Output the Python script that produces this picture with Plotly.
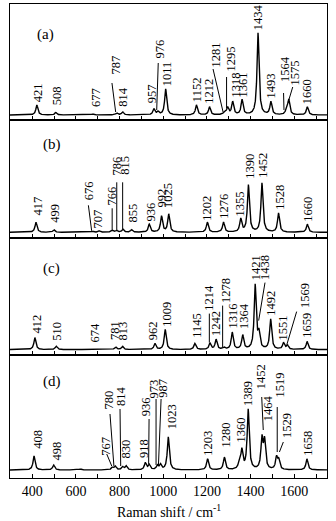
import numpy as np
import plotly.graph_objects as go
from plotly.subplots import make_subplots

# ---------------- data: peak positions (cm-1) and relative intensities ----------------
a_pos = [421, 508, 677, 787, 814, 957, 976, 1011, 1152, 1212, 1281, 1295, 1318, 1361, 1434, 1493, 1564, 1575, 1660]
a_int = [10, 2.5, 1, 2, 3, 6, 3, 26, 10, 8, 3, 7, 13, 15, 82, 13, 4, 15, 8]
a_lab = ["421", "508", "677", "787", "814", "957", "976", "1011", "1152", "1212", "1281", "1295",
         "1318", "1361", "1434", "1493", "1564", "1575", "1660"]

b_pos = [417, 499, 676, 707, 766, 786, 815, 855, 936, 992, 1025, 1202, 1276, 1355, 1390, 1452, 1528, 1660]
b_int = [10, 2.5, 1, 1.5, 2, 2, 3, 2.5, 8, 16, 18, 10, 10, 13, 47, 49, 19, 8]
b_lab = ["417", "499", "676", "707", "766", "786", "815", "855", "936", "992", "1025", "1202",
         "1276", "1355", "1390", "1452", "1528", "1660"]

c_pos = [412, 510, 674, 781, 813, 962, 1009, 1145, 1214, 1242, 1278, 1316, 1364, 1421, 1438, 1492, 1551, 1569, 1659]
c_int = [12, 3.3, 0.7, 2.7, 3.3, 6, 20, 6, 6, 10, 2, 17, 14, 64, 15, 30, 6.5, 4, 8]
c_lab = ["412", "510", "674", "781", "813", "962", "1009", "1145", "1214", "1242", "1278", "1316",
         "1364", "1421", "1438", "1492", "1551", "1569", "1659"]

d_pos = [408, 498, 620, 767, 780, 814, 830, 918, 936, 973, 987, 1023, 1203, 1280, 1348, 1360, 1389,
         1452, 1464, 1519, 1529, 1658]
d_int = [14, 5, 1, 2.5, 3.5, 3, 4, 7, 5, 4, 5, 33, 11, 12.5, 6, 19, 60, 30, 28, 12, 9, 11]
d_lab = ["408", "498", "767", "780", "814", "830", "918", "936", "973", "987", "1023", "1203",
         "1280", "1360", "1389", "1452", "1464", "1519", "1529", "1658"]

panel_names = ["(a)", "(b)", "(c)", "(d)"]

# ---------------- layout: label placements (x, y) and leader lines ----------------
a_place = [(425, 13), (512, 10), (690, 8), (779, 40), (815, 8), (947, 12), (985, 57), (1016, 29),
           (1153, 13), (1206, 11), (1237, 47), (1306, 43), (1329, 17), (1365, 18), (1435, 85),
           (1489, 16), (1558, 33), (1603, 30), (1657, 11)]
a_lead = [(765, 32, 782, 3), (977, 52, 970, 5), (1228, 46, 1274, 3), (1290, 38, 1290, 7),
          (1551, 22, 1553, 5), (1593, 28, 1571, 12)]

b_place = [(425, 17), (504, 10), (657, 32), (700, 4), (764, 27), (787, 57), (825, 57), (860, 10),
           (942, 11), (993, 25), (1023, 24), (1200, 12), (1278, 14), (1350, 16), (1397, 54),
           (1457, 54), (1535, 22), (1663, 10)]
b_lead = [(657, 27, 672, 1.5), (766, 24, 766, 2), (787, 50, 787, 2), (814, 50, 814, 3)]

c_place = [(423, 16), (512, 9), (687, 7), (779, 9), (817, 9), (954, 9), (1016, 23), (1153, 12),
           (1206, 39), (1241, 14), (1287, 47), (1321, 21), (1367, 21), (1425, 69), (1466, 69),
           (1492, 34), (1550, 9), (1649, 42), (1657, 12)]
c_lead = [(1211, 36, 1211, 7), (1272, 44, 1272, 2), (1466, 67, 1437, 29), (1611, 38, 1566, 5)]

d_place = [(423, 21), (509, 9), (734, 14), (756, 61), (806, 64), (825, 11), (909, 12), (924, 54),
           (962, 72), (1000, 72), (1039, 41), (1202, 14), (1283, 22), (1352, 27), (1390, 64),
           (1451, 81), (1481, 49), (1535, 72), (1565, 32), (1660, 14)]
d_lead = [(741, 16, 764, 4), (756, 56, 774, 4), (802, 61, 805, 4), (935, 51, 933, 6),
          (967, 71, 967, 5), (990, 71, 978, 5), (1451, 73, 1458, 40), (1522, 63, 1522, 18),
          (1550, 28, 1532, 18)]

panels = [
    (a_pos, a_int, a_lab, a_place, a_lead, [-5, 111], (462, 81)),
    (b_pos, b_int, b_lab, b_place, b_lead, [-6, 112.3], (489, 88)),
    (c_pos, c_int, c_lab, c_place, c_lead, [-5, 111.3], (486, 81)),
    (d_pos, d_int, d_lab, d_place, d_lead, [-8, 115.4], (492, 88)),
]

HWHM = 5.5
grid = np.arange(298, 1750.01, 0.5)

FONT = "Times New Roman, Liberation Serif, serif"

fig = make_subplots(rows=4, cols=1, shared_xaxes=True, vertical_spacing=0,
                    row_heights=[116, 118.3, 116.3, 123.4])

annotations = []
shapes = []
for i, (pos, inten, labs, place, lead, yr, letter_xy) in enumerate(panels):
    row = i + 1
    spec = np.zeros_like(grid)
    for p, h in zip(pos, inten):
        spec += h * HWHM**2 / ((grid - p) ** 2 + HWHM**2)
    fig.add_trace(go.Scatter(x=grid, y=spec, mode="lines",
                             line=dict(color="black", width=1.4), hoverinfo="skip",
                             showlegend=False), row=row, col=1)
    xr = "x" if row == 1 else f"x{row}"
    yr_ref = "y" if row == 1 else f"y{row}"
    for txt, (lx, ly) in zip(labs, place):
        annotations.append(dict(x=lx, y=ly, xref=xr, yref=yr_ref, text=txt, showarrow=False,
                                textangle=-90, xanchor="center", yanchor="bottom",
                                borderpad=0, borderwidth=0,
                                font=dict(family=FONT, size=12.5, color="black")))
    for (x0, y0, x1, y1) in lead:
        shapes.append(dict(type="line", xref=xr, yref=yr_ref, x0=x0, y0=y0, x1=x1, y1=y1,
                           line=dict(color="black", width=1)))
    annotations.append(dict(x=letter_xy[0], y=letter_xy[1], xref=xr, yref=yr_ref,
                            text=panel_names[i], showarrow=False, xanchor="center",
                            yanchor="middle", font=dict(family=FONT, size=15, color="black")))
    fig.update_yaxes(range=yr, showline=True, mirror=True, linecolor="black", linewidth=1,
                     ticks="", showticklabels=False, showgrid=False, zeroline=False,
                     row=row, col=1)
    fig.update_xaxes(range=[298, 1750], showline=True, mirror=True, linecolor="black",
                     linewidth=1, ticks="inside", ticklen=4, tickwidth=1, tickcolor="black",
                     tickmode="linear", tick0=400, dtick=200,
                     minor=dict(ticks="inside", ticklen=4, tickwidth=1, tickcolor="black",
                                tick0=300, dtick=100, showgrid=False),
                     showgrid=False, zeroline=False,
                     tickfont=dict(family=FONT, size=14, color="black"),
                     showticklabels=(row == 4), row=row, col=1)

annotations.append(dict(x=0.5, y=-0.07, xref="paper", yref="paper",
                        text="Raman shift / cm<sup>-1</sup>", showarrow=False,
                        xanchor="center", yanchor="middle",
                        font=dict(family=FONT, size=14, color="black")))

fig.update_layout(width=336, height=521, margin=dict(l=10, r=9, t=4, b=43),
                  paper_bgcolor="white", plot_bgcolor="white",
                  font=dict(family=FONT, color="black"),
                  annotations=annotations, shapes=shapes, showlegend=False)

fig.write_html("out.html")
